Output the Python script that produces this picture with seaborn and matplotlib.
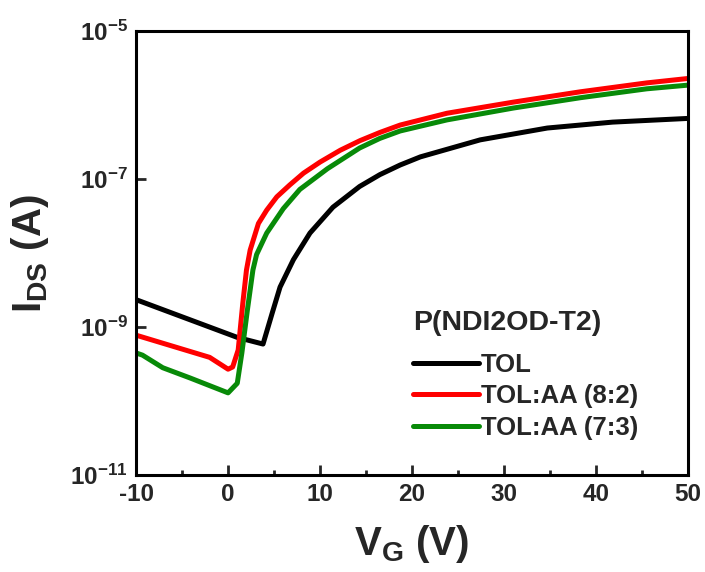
import numpy as np
import pandas as pd
import matplotlib
matplotlib.use("Agg")
import matplotlib.pyplot as plt
import matplotlib.ticker as mticker
import seaborn as sns

# Transfer curves of P(NDI2OD-T2) transistors processed from different solvents
series_names = ["TOL", "TOL:AA (8:2)", "TOL:AA (7:3)"]
series_colors = ["#000000", "#ff0000", "#088a08"]

vg_tol = [-10, 1.0, 3.8, 4.8, 5.65, 7.1, 8.9, 11.4, 14.3, 16.5, 18.7, 20.9,
          27.4, 34.7, 41.8, 50]
logi_tol = [-8.63, -9.14, -9.23, -8.81, -8.46, -8.09, -7.73, -7.38, -7.10,
            -6.94, -6.81, -6.70, -6.47, -6.31, -6.23, -6.18]

vg_82 = [-10, -2.0, 0.0, 0.5, 1.1, 1.6, 2.0, 2.4, 3.3, 4.2, 5.3, 6.7, 8.2,
         10.0, 12.2, 14.35, 16.5, 18.7, 23.8, 31.0, 38.3, 45.5, 50]
logi_82 = [-9.11, -9.41, -9.57, -9.54, -9.31, -8.68, -8.23, -7.96, -7.60,
           -7.42, -7.24, -7.08, -6.92, -6.77, -6.61, -6.48, -6.37, -6.27,
           -6.11, -5.96, -5.82, -5.70, -5.64]

vg_73 = [-10, -9.3, -7.1, -4.1, 0.0, 1.0, 1.5, 2.1, 2.7, 3.1, 4.2, 6.0, 7.8,
         10.8, 14.3, 16.5, 18.7, 23.8, 31.0, 38.3, 45.5, 50]
logi_73 = [-9.35, -9.38, -9.55, -9.69, -9.89, -9.76, -9.35, -8.77, -8.23,
           -8.02, -7.73, -7.40, -7.14, -6.86, -6.58, -6.45, -6.35, -6.20,
           -6.04, -5.90, -5.78, -5.73]

x_ticks = [-10, 0, 10, 20, 30, 40, 50]
y_exponents = [-11, -9, -7, -5]

frames = []
for name, v, li in zip(series_names, [vg_tol, vg_82, vg_73],
                       [logi_tol, logi_82, logi_73]):
    frames.append(pd.DataFrame({"VG": v, "IDS": 10.0 ** np.array(li),
                                "sample": name}))
df = pd.concat(frames, ignore_index=True)

sns.set_style("ticks")
plt.rcParams["font.family"] = ["Liberation Sans", "DejaVu Sans"]
plt.rcParams["font.weight"] = "bold"
plt.rcParams["mathtext.fontset"] = "custom"
plt.rcParams["mathtext.rm"] = "Liberation Sans:bold"
plt.rcParams["mathtext.bf"] = "Liberation Sans:bold"
plt.rcParams["mathtext.it"] = "Liberation Sans:bold"

fig = plt.figure(figsize=(7.05, 5.72), dpi=100)
ax = fig.add_axes([0.193, 0.1696, 0.783, 0.776])

sns.lineplot(data=df, x="VG", y="IDS", hue="sample", hue_order=series_names,
             palette=series_colors, sort=False, estimator=None, units="sample",
             linewidth=3.6, ax=ax, legend=False)

ax.set_yscale("log")
ax.set_xlim(-10, 50)
ax.set_ylim(1e-11, 1e-5)

ax.set_xticks(x_ticks)
ax.set_xticklabels([str(t) for t in x_ticks])
ax.xaxis.set_minor_locator(mticker.MultipleLocator(5))
ax.set_yticks([10.0 ** e for e in y_exponents])
ax.set_yticklabels([rf"$10^{{{e}}}$" for e in y_exponents])
ax.yaxis.set_minor_locator(mticker.NullLocator())

ax.tick_params(axis="both", which="major", direction="in", length=7, width=2,
               labelsize=17.5, pad=6, top=False, right=False)
ax.tick_params(axis="x", which="minor", direction="in", length=3.5, width=2,
               top=False)
for lab in ax.get_xticklabels() + ax.get_yticklabels():
    lab.set_fontweight("bold")

for sp in ax.spines.values():
    sp.set_visible(True)
    sp.set_linewidth(2.2)
    sp.set_color("black")

ax.set_xlabel(r"$\mathregular{V_G}$ (V)", fontsize=29, fontweight="bold",
              labelpad=12)
ax.set_ylabel(r"$\mathregular{I_{DS}}$ (A)", fontsize=29, fontweight="bold",
              labelpad=14)

handles = [plt.Line2D([], [], color=c, lw=3.6) for c in series_colors]
leg = ax.legend(handles, series_names, title="P(NDI2OD-T2)", frameon=False,
                loc="upper left", bbox_to_anchor=(0.502, 0.372),
                prop={"size": 18.5, "weight": "bold"}, handlelength=2.55,
                handletextpad=0.08, labelspacing=0.3, borderpad=0,
                borderaxespad=0)
leg.get_title().set_fontsize(20.5)
leg.get_title().set_fontweight("bold")
leg._legend_box.align = "left"
# extra gap between the legend title and its entries
leg._legend_box.sep = 12

fig.savefig("out.png", dpi=100)
